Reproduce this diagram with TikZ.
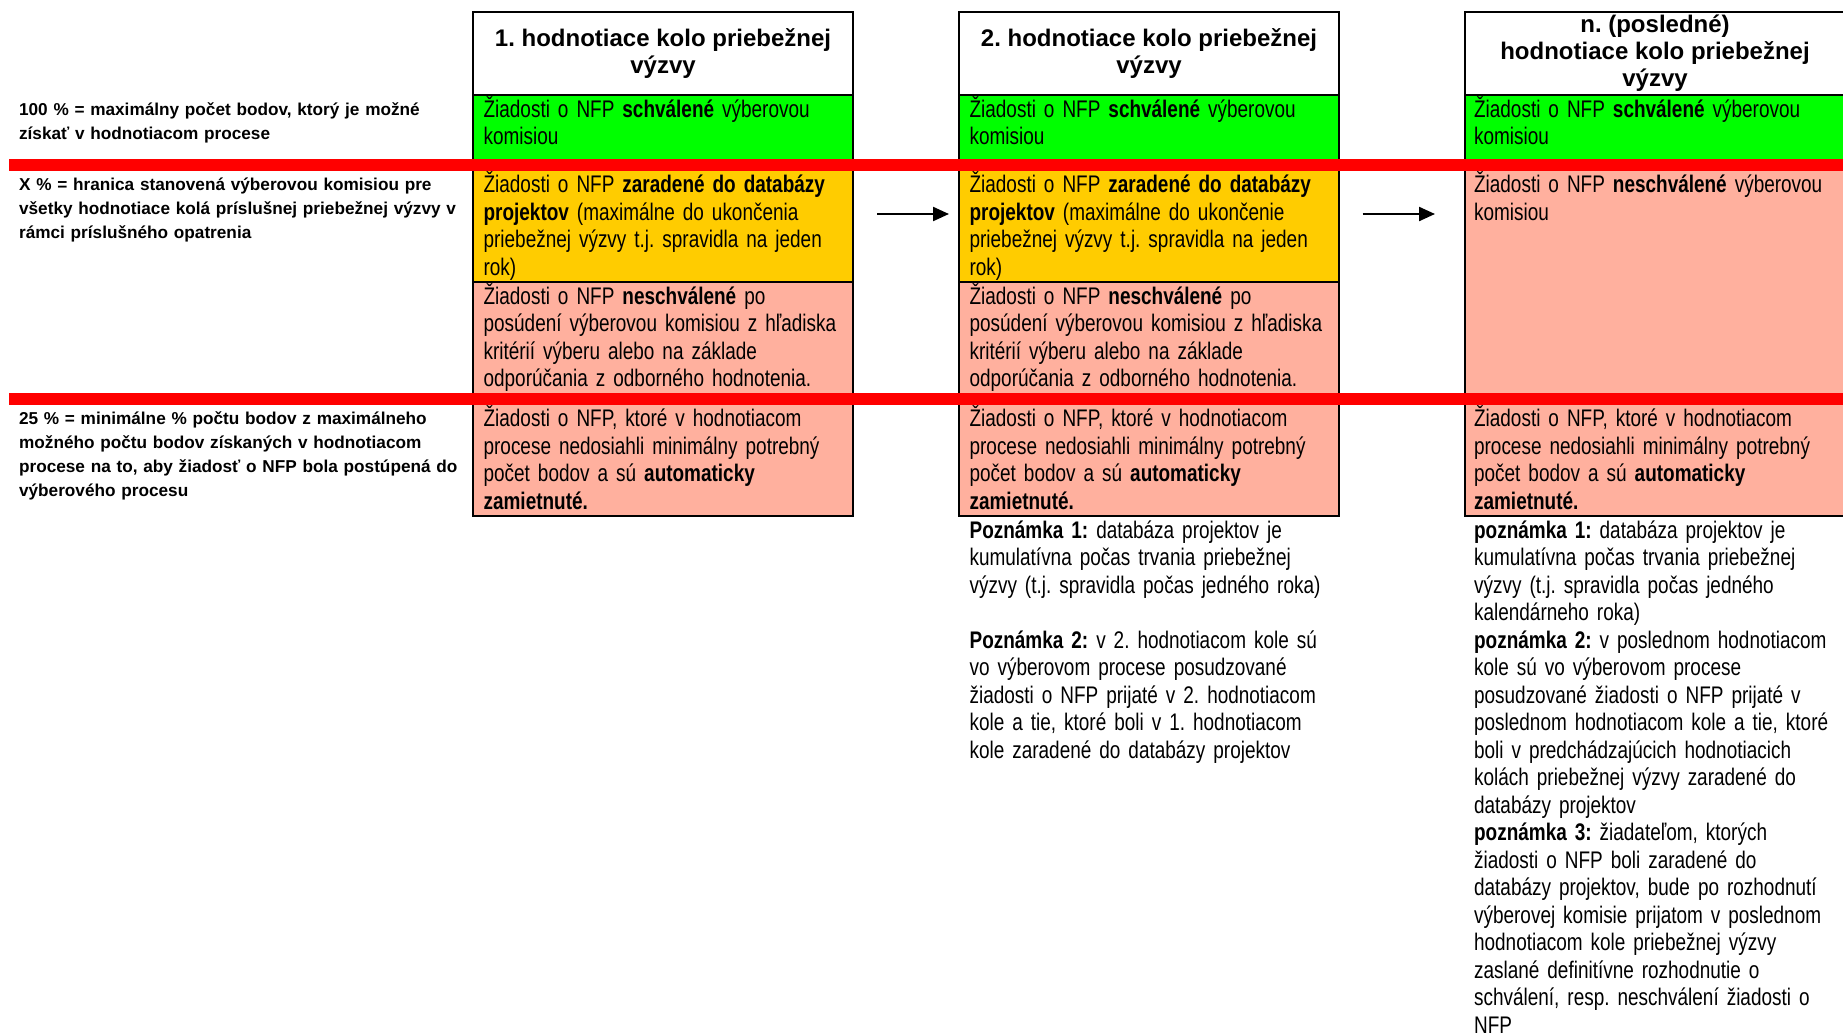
\documentclass[tikz,border=0pt]{standalone}
\usepackage{fontspec}
\setmainfont{Liberation Sans}
\newfontfamily\narrowfont[FakeStretch=0.79]{Liberation Sans}
\usepackage{xcolor}
\usetikzlibrary{arrows.meta,positioning,calc}
\definecolor{cellgreen}{RGB}{0,255,0}
\definecolor{cellyellow}{RGB}{255,204,0}
\definecolor{cellpink}{RGB}{255,176,158}
\definecolor{barred}{RGB}{255,0,0}
\frenchspacing

\begin{document}
\begin{tikzpicture}[x=1pt,y=1pt,>={Triangle[length=16pt,width=14pt]},
				line width=2.2pt]
				\tikzstyle{hdr}=[draw=black,fill=white,minimum width=380pt,minimum height=83pt,inner sep=0pt,outer sep=0pt,align=center,font=\bfseries\fontsize{24}{27}\selectfont]
				\tikzstyle{cell}=[draw=black,minimum width=380pt,inner sep=0pt,outer sep=0pt]
				\tikzstyle{celltxt}=[anchor=base west,inner sep=0pt,text width=400pt,align=left,font=\narrowfont\fontsize{24}{27.5}\selectfont]
				\tikzstyle{lbl}=[anchor=base west,inner sep=0pt,text width=450pt,align=left,font=\bfseries\fontsize{17.2}{24.3}\selectfont]
				\tikzstyle{redbar}=[draw=barred,line width=12pt]
				\useasboundingbox (0,0) rectangle (1843,-1034);
				\clip (0,0) rectangle (1843,-1034);
				
				\node[hdr]   (h1) at (663,-53.5) {1. hodnotiace kolo priebežnej\\výzvy};
				\node[hdr]   (h2) [right = 106pt of h1] {2. hodnotiace kolo priebežnej\\výzvy};
				\node[hdr]   (h3) [right = 126pt of h2] {n. (posledné)\\hodnotiace kolo priebežnej\\výzvy};
				
				\node[cell,fill=cellgreen,minimum height=70pt]    (g1) [below = 0pt of h1] {};
				\node[cell,fill=cellyellow,minimum height=117pt]  (y1) [below = 0pt of g1] {};
				\node[cell,fill=cellpink,minimum height=117pt]    (p1) [below = 0pt of y1] {};
				\node[cell,fill=cellpink,minimum height=117pt]    (z1) [below = 0pt of p1] {};
				
				\node[cell,fill=cellgreen,minimum height=70pt]    (g2) [below = 0pt of h2] {};
				\node[cell,fill=cellyellow,minimum height=117pt]  (y2) [below = 0pt of g2] {};
				\node[cell,fill=cellpink,minimum height=117pt]    (p2) [below = 0pt of y2] {};
				\node[cell,fill=cellpink,minimum height=117pt]    (z2) [below = 0pt of p2] {};
				
				\node[cell,fill=cellgreen,minimum height=70pt]    (g3) [below = 0pt of h3] {};
				\node[cell,fill=cellpink,minimum height=234pt]    (p3) [below = 0pt of g3] {};
				\node[cell,fill=cellpink,minimum height=117pt]    (z3) [below = 0pt of p3] {};
				
				\node[celltxt] (g1t) at ([shift={(9.5pt,-22pt)}]g1.north west) {Žiadosti o NFP \textbf{schválené} výberovou\\komisiou};
				\node[celltxt] (y1t) at ([shift={(9.5pt,-27.5pt)}]y1.north west) {Žiadosti o NFP \textbf{zaradené do databázy}\\\textbf{projektov} (maximálne do ukončenia\\priebežnej výzvy t.j. spravidla na jeden\\rok)};
				\node[celltxt] (p1t) at ([shift={(9.5pt,-22pt)}]p1.north west) {Žiadosti o NFP \textbf{neschválené} po\\posúdení výberovou komisiou z hľadiska\\kritérií výberu alebo na základe\\odporúčania z odborného hodnotenia.};
				\node[celltxt] (z1t) at ([shift={(9.5pt,-27.5pt)}]z1.north west) {Žiadosti o NFP, ktoré v hodnotiacom\\procese nedosiahli minimálny potrebný\\počet bodov a sú \textbf{automaticky}\\\textbf{zamietnuté.}};
				
				\node[celltxt] (g2t) at ([shift={(9.5pt,-22pt)}]g2.north west) {Žiadosti o NFP \textbf{schválené} výberovou\\komisiou};
				\node[celltxt] (y2t) at ([shift={(9.5pt,-27.5pt)}]y2.north west) {Žiadosti o NFP \textbf{zaradené do databázy}\\\textbf{projektov} (maximálne do ukončenie\\priebežnej výzvy t.j. spravidla na jeden\\rok)};
				\node[celltxt] (p2t) at ([shift={(9.5pt,-22pt)}]p2.north west) {Žiadosti o NFP \textbf{neschválené} po\\posúdení výberovou komisiou z hľadiska\\kritérií výberu alebo na základe\\odporúčania z odborného hodnotenia.};
				\node[celltxt] (z2t) at ([shift={(9.5pt,-27.5pt)}]z2.north west) {Žiadosti o NFP, ktoré v hodnotiacom\\procese nedosiahli minimálny potrebný\\počet bodov a sú \textbf{automaticky}\\\textbf{zamietnuté.}};
				
				\node[celltxt] (g3t) at ([shift={(8pt,-22pt)}]g3.north west) {Žiadosti o NFP \textbf{schválené} výberovou\\komisiou};
				\node[celltxt] (p3t) at ([shift={(8pt,-27.5pt)}]p3.north west) {Žiadosti o NFP \textbf{neschválené} výberovou\\komisiou};
				\node[celltxt] (z3t) at ([shift={(8pt,-27.5pt)}]z3.north west) {Žiadosti o NFP, ktoré v hodnotiacom\\procese nedosiahli minimálny potrebný\\počet bodov a sú \textbf{automaticky}\\\textbf{zamietnuté.}};
				
				\node[celltxt] (n2) at ([shift={(9.5pt,-22pt)}]z2.south west) {\textbf{Poznámka 1:} databáza projektov je\\kumulatívna počas trvania priebežnej\\výzvy (t.j. spravidla počas jedného roka)\\[27.5pt]\textbf{Poznámka 2:} v 2. hodnotiacom kole sú\\vo výberovom procese posudzované\\žiadosti o NFP prijaté v 2. hodnotiacom\\kole a tie, ktoré boli v 1. hodnotiacom\\kole zaradené do databázy projektov};
				\node[celltxt] (n3) at ([shift={(8pt,-22pt)}]z3.south west) {\textbf{poznámka 1:} databáza projektov je\\kumulatívna počas trvania priebežnej\\výzvy (t.j. spravidla počas jedného\\kalendárneho roka)\\\textbf{poznámka 2:} v poslednom hodnotiacom\\kole sú vo výberovom procese\\posudzované žiadosti o NFP prijaté v\\poslednom hodnotiacom kole a tie, ktoré\\boli v predchádzajúcich hodnotiacich\\kolách priebežnej výzvy zaradené do\\databázy projektov\\\textbf{poznámka 3:} žiadateľom, ktorých\\žiadosti o NFP boli zaradené do\\databázy projektov, bude po rozhodnutí\\výberovej komisie prijatom v poslednom\\hodnotiacom kole priebežnej výzvy\\zaslané definitívne rozhodnutie o\\schválení, resp. neschválení žiadosti o\\NFP};
				
				\node[lbl] (l100) at (18,-115) {100 \% = maximálny počet bodov, ktorý je možné\\získať v hodnotiacom procese};
				\node[lbl] (lx) at (18,-190) {X \% = hranica stanovená výberovou komisiou pre\\všetky hodnotiace kolá príslušnej priebežnej výzvy v\\rámci príslušného opatrenia};
				\node[lbl] (l25) at (18,-424) {25 \% = minimálne \% počtu bodov z maximálneho\\možného počtu bodov získaných v hodnotiacom\\procese na to, aby žiadosť o NFP bola postúpená do\\výberového procesu};
				
				\draw[redbar] (9,-165) -- (1850,-165);
				\draw[redbar] (9,-399) -- (1850,-399);
				
				\path[->] ([yshift=9.5pt]y1.east) edge[shorten <=24pt,shorten >=10pt] ([yshift=9.5pt]y2.west)
				([yshift=9.5pt]y2.east) edge[shorten <=23.5pt,shorten >=30pt] ([yshift=9.5pt]y2.east -| p3.west);
			\end{tikzpicture}
\end{document}
